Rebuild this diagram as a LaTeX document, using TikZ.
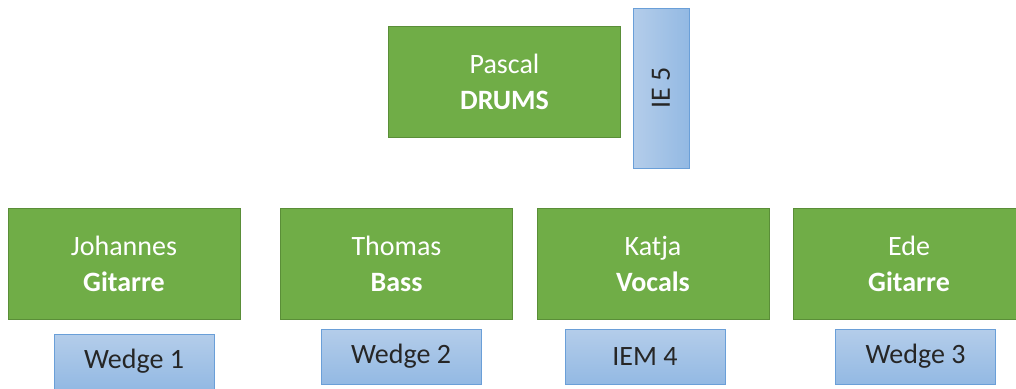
\documentclass[tikz,border=0pt]{standalone}
\usepackage{fontspec}
\setmainfont{Carlito}
\usepackage{tikz}
\usetikzlibrary{positioning}
\usepackage{xcolor}
\usepackage{graphicx}

\definecolor{bandgreen}{HTML}{70AD47}
\definecolor{bandgreenline}{HTML}{5A8E38}
\definecolor{monlight}{HTML}{B4CDEA}
\definecolor{mondark}{HTML}{93B9E3}
\definecolor{monline}{HTML}{6A9FD8}

\tikzset{
  member/.style={draw=bandgreenline, line width=1pt, fill=bandgreen, text=white,
    minimum width=232pt, minimum height=111pt, align=center, font=\fontsize{28}{36}\selectfont},
  monitor/.style={draw=monline, line width=1pt, top color=monlight, bottom color=mondark,
    text=black!85, minimum width=160pt, minimum height=55pt, font=\fontsize{28}{34}\selectfont}
}

\begin{document}
\begin{tikzpicture}[x=1pt, y=-1pt]
    \useasboundingbox (0,0) rectangle (1016,388);
    \clip (0,0) rectangle (1016,388);

    % Drums
    \node[member] (pascal) at (504.5, 81.5) {Pascal\\\textbf{DRUMS}};
    \node[monitor, minimum width=56pt, minimum height=160pt, inner sep=0pt,
          left color=monlight, right color=mondark] (ie5) at (661, 88) {\rotatebox{90}{IE 5}};

    % Front row
    \node[member] (johannes) at (124, 264) {Johannes\\\textbf{Gitarre}};
    \node[member] (thomas) at (396.5, 264) {Thomas\\\textbf{Bass}};
    \node[member] (katja) at (653, 264) {Katja\\\textbf{Vocals}};
    \node[member] (ede) at (909, 264) {Ede\\\textbf{Gitarre}};

    % Monitors
    \node[monitor] (wedge1) at (134, 361.5) {Wedge 1};
    \node[monitor] (wedge2) at (401, 356.5) {Wedge 2};
    \node[monitor] (iem4) at (645, 356.5) {IEM 4};
    \node[monitor] (wedge3) at (915.5, 356.5) {Wedge 3};
\end{tikzpicture}
\end{document}
